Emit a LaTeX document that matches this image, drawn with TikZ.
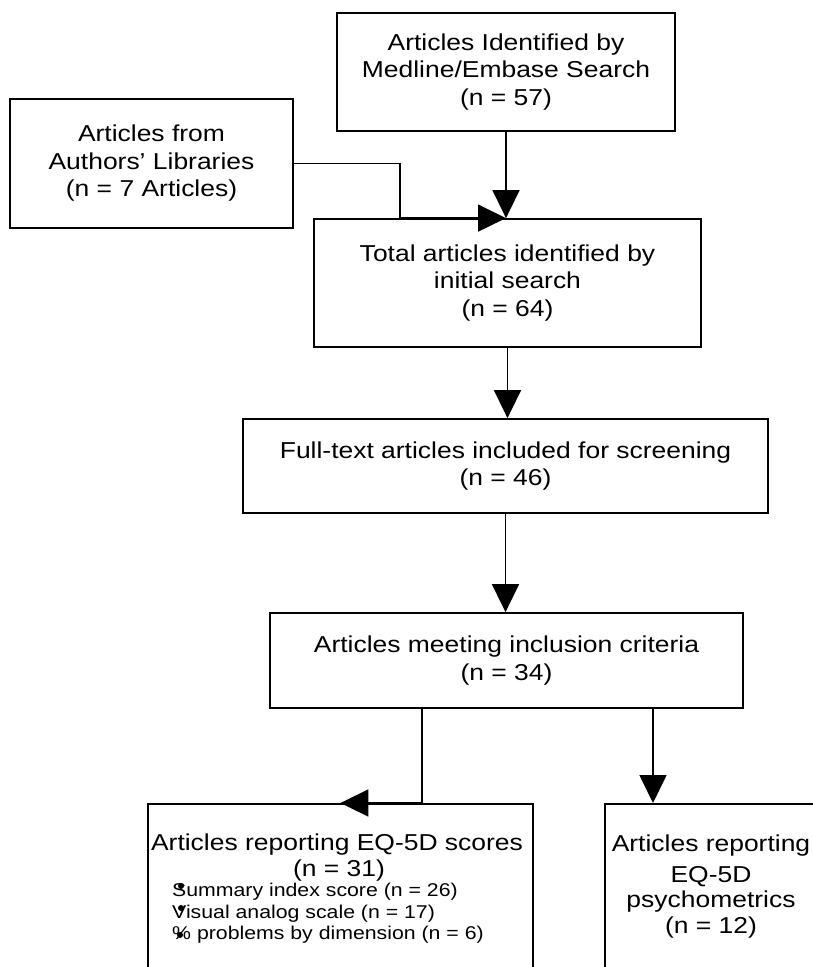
\documentclass[tikz,border=0pt]{standalone}
\usepackage{fontspec}
\setmainfont[FakeStretch=1.15]{Liberation Sans}
\usetikzlibrary{arrows.meta}
\newcommand\mainfs{\fontsize{23}{27.5}\selectfont}
\newcommand\smallfs{\fontsize{18.5}{21.5}\selectfont}
\begin{document}
\begin{tikzpicture}[x=1pt,y=-1pt,
  box/.style={draw,line width=1.8pt,rectangle,inner sep=0pt,align=center,font=\mainfs},
  lbl/.style={font=\mainfs,anchor=base,inner sep=0pt},
  sub/.style={font=\smallfs,anchor=base west,inner sep=0pt},
  arr/.style={line width=1.7pt,-{Triangle[length=28pt,width=27pt]}},
  dotb/.style={fill=black,circle,inner sep=0pt,minimum size=6pt}]
\useasboundingbox (0,0) rectangle (813,967);
\fill[white] (0,0) rectangle (813,967);
\clip (0,0) rectangle (813,967);

\node[box,minimum width=338pt,minimum height=118pt] (med) at (506,72)
  {Articles Identified by\\Medline/Embase Search\\(n = 57)};
\node[box,minimum width=283pt,minimum height=129pt] (auth) at (151.5,163.5)
  {Articles from\\Authors’ Libraries\\(n = 7 Articles)};
\node[box,minimum width=387pt,minimum height=128pt] (tot) at (507.5,283)
  {Total articles identified by\\initial search\\(n = 64)};
\node[box,minimum width=525pt,minimum height=94pt] (full) at (505.5,466)
  {Full-text articles included for screening\\(n = 46)};
\node[box,minimum width=473pt,minimum height=95pt] (incl) at (506.5,660.5)
  {Articles meeting inclusion criteria\\(n = 34)};
\node[box,minimum width=385pt,minimum height=200pt,anchor=north west] (scores) at (147,803) {};
\node[box,minimum width=230pt,minimum height=200pt,anchor=north west] (psy) at (604,803) {};

% scores box text
\node[lbl] (s1) at (337,850) {Articles reporting EQ-5D scores};
\node[lbl] (s2) at (339,876) {(n = 31)};
\node[sub] (b1) at (172,896) {Summary index score (n = 26)};
\node[sub] (b2) at (172,918.5) {Visual analog scale (n = 17)};
\node[sub] (b3) at (172,939) {\% problems by dimension (n = 6)};
\node[dotb] (d1) at (181,886) {};
\node[dotb] (d2) at (181,908) {};
\node[dotb] (d3) at (180,935) {};

% psychometrics box text
\node[lbl] (p1) at (711,851) {Articles reporting};
\node[lbl] (p2) at (711,882) {EQ-5D};
\node[lbl] (p3) at (711,907) {psychometrics};
\node[lbl] (p4) at (711,933) {(n = 12)};

% connectors
\coordinate (atip) at (med.south |- tot.north);
\coordinate (aturn) at (400,163.5);
\draw[arr] (med.south) -- (atip);
\draw[arr] (auth.east) -- (aturn) -- (aturn |- tot.north) -- (atip);
\draw[arr] (tot.south) -- (tot.south |- full.north);
\draw[arr] (full.south) -- (full.south |- incl.north);
\coordinate (bl) at ([xshift=-84.5pt]incl.south);
\coordinate (br) at ([xshift=146.5pt]incl.south);
\draw[arr] (bl) -- (bl |- scores.north) -- (scores.north);
\draw[arr] (br) -- (br |- psy.north);
\end{tikzpicture}
\end{document}
